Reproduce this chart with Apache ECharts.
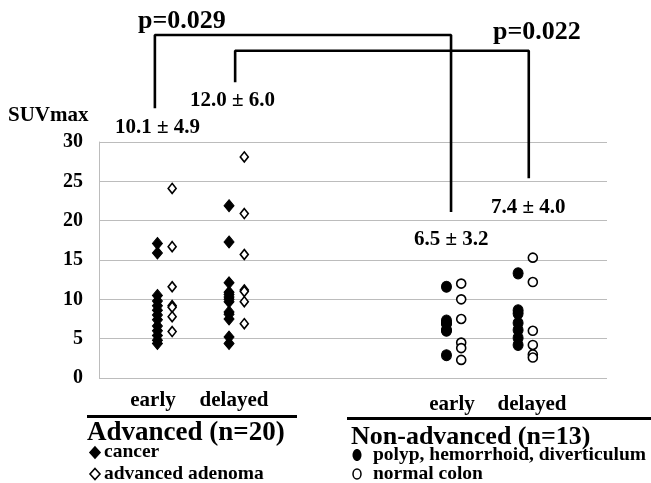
<!DOCTYPE html>
<html>
<head>
<meta charset="utf-8">
<script src="https://cdn.jsdelivr.net/npm/echarts@6/dist/echarts.min.js"></script>
<style>
  html, body { margin: 0; padding: 0; background: #fff; }
  #main { width: 651px; height: 483px; }
</style>
</head>
<body>
<div id="main"></div>
<script>
// SUVmax values
var cancerEarly = [17.1, 15.9, 10.5, 9.8, 9.2, 8.6, 8.0, 7.4, 6.6, 6.0, 5.4, 4.8, 4.4];
var adenomaEarly = [24.1, 16.7, 11.6, 9.2, 9.0, 7.8, 5.9];
var cancerDelayed = [21.9, 17.3, 12.1, 10.9, 10.6, 10.3, 10.0, 9.7, 8.4, 8.1, 7.5, 5.2, 4.4];
var adenomaDelayed = [28.1, 20.9, 15.7, 11.2, 11.0, 9.7, 6.9];
var polypEarly = [11.6, 7.3, 7.0, 6.9, 6.1, 6.0, 2.9];
var normalEarly = [12.0, 10.0, 7.5, 4.5, 3.8, 2.3];
var polypDelayed = [13.3, 8.6, 8.2, 7.0, 6.1, 5.1, 4.2];
var normalDelayed = [15.3, 12.2, 6.0, 4.2, 3.0, 2.6];

// column positions on the (hidden) x axis, 0..100
var colX = [11.5, 14.4, 25.6, 28.6, 68.4, 71.3, 82.5, 85.4];
var yTicks = [0, 5, 10, 15, 20, 25, 30];

// significance brackets, in data units
var bracket1 = [[11.0, 34.3], [11.0, 43.6], [69.3, 43.6], [69.3, 21.1]];
var bracket2 = [[26.8, 37.6], [26.8, 41.6], [84.6, 41.6], [84.6, 25.4]];

var FONT = '"Liberation Serif", "Times New Roman", serif';

function pts(x, arr) {
  return arr.map(function (v) { return [x, v]; });
}

var chart = echarts.init(document.getElementById('main'));

var filled = { color: '#000', borderColor: '#000', borderWidth: 1, opacity: 1 };
var open = { color: '#fff', borderColor: '#000', borderWidth: 1.6, opacity: 1 };

function scat(name, x, arr, symbol, style, size) {
  return {
    name: name, type: 'scatter', symbol: symbol, symbolSize: size,
    itemStyle: style, data: pts(x, arr), z: 3
  };
}

function bracket(data) {
  return {
    type: 'line', data: data, clip: false, symbol: 'none', silent: true,
    lineStyle: { color: '#000', width: 2.6 }, z: 4
  };
}

function txt(x, y, s, size, align) {
  return {
    type: 'text', x: x, y: y,
    style: {
      text: s, font: 'bold ' + size + 'px ' + FONT, fill: '#000',
      textAlign: align || 'left', textVerticalAlign: 'middle'
    }
  };
}

function diamond(cx, cy, fill) {
  return {
    type: 'polygon',
    shape: { points: [[cx, cy - 5.5], [cx + 5, cy], [cx, cy + 5.5], [cx - 5, cy]] },
    style: { fill: fill, stroke: '#000', lineWidth: 1.6 }
  };
}

chart.setOption({
  animation: false,
  grid: { left: 99, right: 44, top: 142, bottom: 105 },
  xAxis: { type: 'value', min: 0, max: 100, show: false },
  yAxis: {
    type: 'value', min: yTicks[0], max: yTicks[yTicks.length - 1], interval: 5,
    axisLine: { show: true, lineStyle: { color: '#bcbcbc', width: 1 } },
    axisTick: { show: false },
    splitLine: { lineStyle: { color: '#bcbcbc', width: 1 } },
    axisLabel: { color: '#000', fontFamily: FONT, fontWeight: 'bold', fontSize: 20, margin: 16 }
  },
  series: [
    scat('cancer early', colX[0], cancerEarly, 'diamond', filled, [10, 12]),
    scat('adenoma early', colX[1], adenomaEarly, 'diamond', open, [8, 10]),
    scat('cancer delayed', colX[2], cancerDelayed, 'diamond', filled, [10, 12]),
    scat('adenoma delayed', colX[3], adenomaDelayed, 'diamond', open, [8, 10]),
    scat('polyp early', colX[4], polypEarly, 'circle', filled, [10, 11]),
    scat('normal early', colX[5], normalEarly, 'circle', open, [9, 9]),
    scat('polyp delayed', colX[6], polypDelayed, 'circle', filled, [10, 11]),
    scat('normal delayed', colX[7], normalDelayed, 'circle', open, [9, 9]),
    bracket(bracket1),
    bracket(bracket2)
  ],
  graphic: [
    txt(8, 116, 'SUVmax', 21),
    txt(138, 21, 'p=0.029', 26),
    txt(493, 32, 'p=0.022', 26),
    txt(115, 128, '10.1 \u00b1 4.9', 21),
    txt(190, 101, '12.0 \u00b1 6.0', 21),
    txt(414, 240, '6.5 \u00b1 3.2', 21),
    txt(491, 208, '7.4 \u00b1 4.0', 21),
    txt(153, 401, 'early', 21, 'center'),
    txt(234, 401, 'delayed', 21, 'center'),
    txt(452, 405, 'early', 21, 'center'),
    txt(532, 405, 'delayed', 21, 'center'),
    { type: 'rect', shape: { x: 87, y: 415, width: 210, height: 3 }, style: { fill: '#000' } },
    { type: 'rect', shape: { x: 347, y: 417, width: 304, height: 3 }, style: { fill: '#000' } },
    txt(87, 433, 'Advanced (n=20)', 27),
    txt(351, 437, 'Non-advanced (n=13)', 26),
    diamond(95, 452.5, '#000'),
    diamond(95, 474, '#fff'),
    txt(104, 452, 'cancer', 19.5),
    txt(104, 474, 'advanced adenoma', 19.5),
    { type: 'ellipse', shape: { cx: 357, cy: 455, rx: 4.5, ry: 6 }, style: { fill: '#000' } },
    { type: 'ellipse', shape: { cx: 357, cy: 474, rx: 4, ry: 5 }, style: { fill: '#fff', stroke: '#000', lineWidth: 1.5 } },
    txt(373, 455, 'polyp, hemorrhoid, diverticulum', 19.5),
    txt(373, 474, 'normal colon', 19.5)
  ]
});
</script>
</body>
</html>
